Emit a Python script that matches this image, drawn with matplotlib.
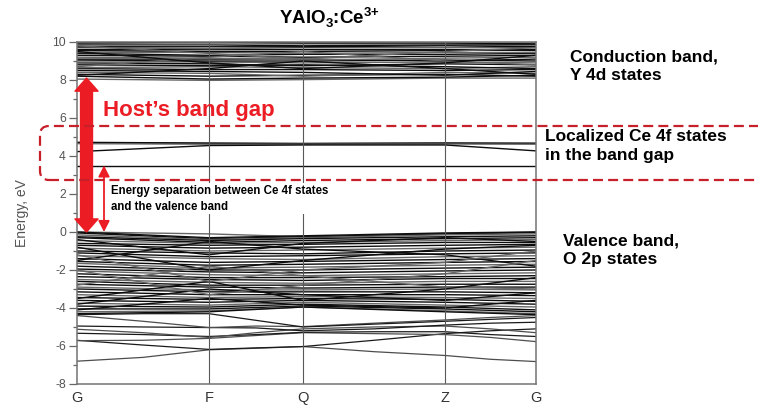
import numpy as np
import matplotlib
matplotlib.use('Agg')
import matplotlib.pyplot as plt
from matplotlib.patches import FancyArrowPatch, FancyBboxPatch

plt.rcParams['font.family'] = ['Liberation Sans', 'DejaVu Sans']
plt.rcParams['axes.unicode_minus'] = False
plt.rcParams['mathtext.fontset'] = 'custom'
plt.rcParams['mathtext.rm'] = 'Liberation Sans:bold'
plt.rcParams['mathtext.bf'] = 'Liberation Sans:bold'

# k-path: high symmetry points and their positions along the path
kpath_labels = ['G', 'F', 'Q', 'Z', 'G']
kpath_pos = [0.0, 0.2876, 0.4924, 0.8017, 1.0]

# energies (eV) at G, F, Q, Z, G for the dense bands
conduction_bands = [
    [8.05, 7.98, 8.02, 8.10, 8.10],
    [8.20, 8.05, 8.10, 8.15, 8.25],
    [8.30, 8.20, 8.25, 8.30, 8.20],
    [8.40, 8.35, 8.20, 8.40, 8.35],
    [8.50, 8.45, 8.40, 8.25, 8.45],
    [8.60, 8.55, 8.55, 8.50, 8.55],
    [8.65, 8.70, 8.65, 8.60, 8.70],
    [8.80, 8.75, 8.80, 8.70, 8.60],
    [8.90, 8.85, 8.75, 8.85, 8.80],
    [8.95, 8.95, 8.90, 8.95, 8.90],
    [9.05, 9.00, 9.00, 9.05, 9.00],
    [9.10, 9.10, 9.10, 9.00, 9.10],
    [9.20, 9.15, 9.05, 9.15, 9.20],
    [9.30, 9.25, 9.20, 9.25, 9.30],
    [9.40, 9.30, 9.35, 9.35, 9.40],
    [9.45, 9.45, 9.40, 9.45, 9.45],
    [9.55, 9.50, 9.50, 9.55, 9.60],
    [9.60, 9.60, 9.60, 9.60, 9.55],
    [9.70, 9.65, 9.70, 9.70, 9.70],
    [9.75, 9.75, 9.75, 9.80, 9.75],
    [9.85, 9.85, 9.80, 9.85, 9.85],
    [9.90, 9.90, 9.90, 9.90, 9.95],
    [9.95, 10.00, 9.95, 9.95, 9.90],
    [10.05, 10.05, 10.05, 10.05, 10.05],
    [8.70, 9.20, 9.50, 9.00, 8.80],
    [9.50, 8.90, 8.60, 8.90, 9.30],
    [8.25, 8.60, 9.00, 8.60, 8.30],
    [9.80, 9.40, 9.10, 9.50, 9.70],
]

# Ce 4f states inside the gap
ce4f_bands = [
    [4.72, 4.68, 4.65, 4.67, 4.66],
    [4.70, 4.66, 4.66, 4.68, 4.67],
    [4.65, 4.62, 4.62, 4.63, 4.62],
    [4.23, 4.55, 4.58, 4.58, 4.27],
    [3.49, 3.49, 3.49, 3.49, 3.49],
]

valence_bands = [
    [0.00, -0.10, -0.25, -0.10, 0.00],
    [0.00, -0.30, -0.20, -0.05, 0.00],
    [-0.05, -0.35, -0.25, -0.10, -0.03],
    [-0.15, -0.40, -0.30, -0.15, -0.10],
    [-0.25, -0.45, -0.35, -0.25, -0.20],
    [-0.30, -0.55, -0.45, -0.35, -0.30],
    [-0.45, -0.60, -0.55, -0.45, -0.40],
    [-0.60, -0.70, -0.65, -0.55, -0.55],
    [-0.70, -0.85, -0.80, -0.70, -0.65],
    [-0.85, -1.00, -0.95, -0.85, -0.80],
    [-1.00, -1.10, -1.15, -1.00, -0.95],
    [-1.10, -1.30, -1.25, -1.15, -1.10],
    [-1.25, -1.40, -1.45, -1.30, -1.25],
    [-1.40, -1.60, -1.55, -1.45, -1.40],
    [-1.55, -1.75, -1.70, -1.60, -1.55],
    [-1.65, -1.90, -1.85, -1.75, -1.70],
    [-1.80, -2.00, -2.00, -1.90, -1.85],
    [-1.95, -2.10, -2.15, -2.05, -2.00],
    [-2.05, -2.25, -2.30, -2.20, -2.15],
    [-2.20, -2.40, -2.40, -2.35, -2.30],
    [-2.35, -2.50, -2.55, -2.45, -2.45],
    [-2.50, -2.65, -2.70, -2.60, -2.60],
    [-2.60, -2.80, -2.80, -2.75, -2.75],
    [-2.75, -2.90, -2.95, -2.90, -2.90],
    [-2.90, -3.05, -3.05, -3.00, -3.05],
    [-3.00, -3.15, -3.15, -3.15, -3.20],
    [-3.15, -3.30, -3.30, -3.30, -3.35],
    [-3.30, -3.45, -3.40, -3.45, -3.50],
    [-3.45, -3.55, -3.50, -3.55, -3.65],
    [-3.60, -3.70, -3.60, -3.70, -3.80],
    [-3.75, -3.85, -3.70, -3.85, -3.95],
    [-3.90, -3.95, -3.80, -3.95, -4.10],
    [-4.05, -4.05, -3.90, -4.05, -4.20],
    [-4.20, -4.15, -3.95, -4.15, -4.30],
    [-4.30, -4.20, -3.95, -4.20, -4.35],
    [-0.80, -2.00, -1.50, -0.90, -0.70],
    [-2.80, -1.80, -2.30, -2.90, -3.00],
    [-1.50, -0.50, -0.90, -1.20, -1.80],
    [-3.80, -3.00, -3.30, -3.60, -3.20],
    [-2.00, -3.30, -2.80, -2.20, -1.50],
    [-3.50, -2.60, -3.60, -3.00, -2.40],
    [-0.40, -1.20, -0.60, -0.30, -0.50],
    [-1.20, -2.60, -2.00, -1.60, -1.00],
    [-4.10, -3.50, -3.85, -4.00, -3.60],
]

# lower valence bands, also sampled halfway between the symmetry points
lower_bands = [
    [-6.80, -6.60, -6.20, -6.12, -6.03, -6.30, -6.50, -6.70, -6.82],
    [-5.70, -5.95, -6.18, -6.10, -6.03, -5.70, -5.35, -5.20, -5.10],
    [-5.72, -5.70, -5.60, -5.45, -5.30, -5.35, -5.40, -5.55, -5.77],
    [-5.33, -5.40, -5.50, -5.40, -5.28, -5.25, -5.25, -5.40, -5.50],
    [-5.12, -5.30, -5.55, -5.30, -5.10, -5.00, -4.95, -5.10, -5.30],
    [-4.95, -5.00, -5.03, -5.05, -5.20, -5.10, -4.90, -4.80, -4.75],
    [-4.40, -4.70, -5.03, -4.95, -4.98, -4.80, -4.63, -4.50, -4.40],
    [-4.35, -4.30, -4.30, -4.65, -5.00, -4.85, -4.70, -4.60, -4.50],
]

# annotation energies
gap_bottom, gap_top = 0.0, 8.1
sep_bottom, sep_top = 0.0, 3.5

red = '#ec1c24'
dark_red = '#c8202a'
tick_gray = '#555555'

k_fine = np.interp(np.arange(9) / 2.0, np.arange(5), kpath_pos)

fig = plt.figure(figsize=(7.58, 4.05), dpi=100)
ax = fig.add_axes([0.1016, 0.0519, 0.6055, 0.8444])

for i, band in enumerate(conduction_bands + ce4f_bands + valence_bands):
    ax.plot(kpath_pos, band, color='0.05' if i % 3 else '0.4', lw=1.0)
for i, band in enumerate(lower_bands):
    ax.plot(k_fine, band, color='0.1' if i % 2 else '0.3', lw=0.9)

for k in kpath_pos[1:-1]:
    ax.axvline(k, color='0.35', lw=0.8)

ax.set_xlim(0, 1)
ax.set_ylim(-8, 10)
ax.set_xticks(kpath_pos)
ax.set_xticklabels(kpath_labels, fontsize=10.5, color='#333333')
ax.tick_params(axis='x', length=0, pad=5)
ax.set_yticks(np.arange(-8, 11, 2))
ax.set_yticks(np.arange(-7, 10, 2), minor=True)
ax.tick_params(axis='y', which='major', length=6, width=0.9, color='0.4',
               labelsize=8.8, labelcolor=tick_gray, pad=2)
ax.tick_params(axis='y', which='minor', length=3, width=0.9, color='0.4')
for s in ax.spines.values():
    s.set_color('0.45')
    s.set_linewidth(1.1)
ax.set_ylabel('Energy, eV', fontsize=10, color=tick_gray, labelpad=17)

fig.text(0.435, 0.955, r'YAlO$_3$:Ce$^{3{+}}$', fontsize=13.5,
         fontweight='bold', ha='center', va='center')

# host band gap arrow (two simple arrows from the middle outward)
gap_x = 0.0207
mid = (gap_bottom + gap_top) / 2
for end in (gap_top, gap_bottom):
    ax.add_patch(FancyArrowPatch((gap_x, mid), (gap_x, end),
                 arrowstyle='simple,head_length=0.47,head_width=0.83,tail_width=0.43',
                 mutation_scale=20, color=red, shrinkA=0, shrinkB=0,
                 clip_on=False, zorder=5))
ax.text(0.056, 6.4, 'Host\u2019s band gap', color=red, fontsize=16,
        fontweight='bold', va='center', ha='left', zorder=6)

# Ce 4f - valence band separation
sep_x = 0.0588
ax.add_patch(FancyArrowPatch((sep_x, sep_bottom), (sep_x, sep_top),
             arrowstyle='<|-|>,head_length=0.55,head_width=0.28',
             mutation_scale=12, color=red, lw=1.3, shrinkA=0, shrinkB=0,
             zorder=5))
ax.text(0.075, 1.75, 'Energy separation between Ce 4f states\nand the valence band',
        fontsize=8.3, fontweight='bold', va='center', ha='left',
        linespacing=1.45, zorder=6,
        bbox=dict(facecolor='white', edgecolor='none', pad=1))

# dashed box round the 4f states (figure inches)
box = FancyBboxPatch((0.40, 2.25), 7.6, 0.54, transform=fig.dpi_scale_trans,
                     boxstyle='round,pad=0,rounding_size=0.09',
                     facecolor='none', edgecolor=dark_red, lw=1.6,
                     linestyle=(0, (4.5, 2.3)), clip_on=False, zorder=7)
fig.add_artist(box)

side = dict(fontsize=12.5, fontweight='bold', ha='left', va='top', linespacing=1.35)
fig.text(570 / 758, 1 - 49 / 405, 'Conduction band,\nY 4d states', **side)
fig.text(545 / 758, 1 - 129 / 405, 'Localized Ce 4f states\nin the band gap', **side)
fig.text(563 / 758, 1 - 233 / 405, 'Valence band,\nO 2p states', **side)

fig.savefig('out.png', dpi=100)
